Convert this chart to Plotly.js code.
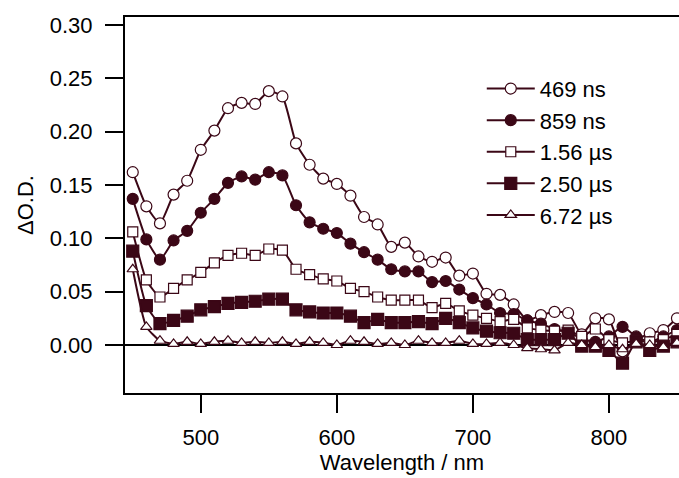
<!DOCTYPE html>
<html>
<head>
<meta charset="utf-8">
<script src="https://cdn.plot.ly/plotly-3.0.1.min.js"></script>
<style>html,body{margin:0;padding:0;background:#fff}#chart{width:679px;height:478px}</style>
</head>
<body>
<div id="chart"></div>
<script>
const wavelength = [450,460,470,480,490,500,510,520,530,540,550,560,570,580,590,600,610,620,630,640,650,660,670,680,690,700,710,720,730,740,750,760,770,780,790,800,810,820,830,840,850];
const seriesNames = ['469 ns','859 ns','1.56 \u00b5s','2.50 \u00b5s','6.72 \u00b5s'];
const od469ns = [0.162,0.130,0.114,0.141,0.154,0.183,0.201,0.222,0.227,0.226,0.238,0.233,0.189,0.169,0.156,0.151,0.140,0.120,0.113,0.092,0.096,0.083,0.078,0.082,0.065,0.067,0.048,0.047,0.038,0.023,0.028,0.031,0.030,0.010,0.025,0.024,-0.006,0.004,0.011,0.014,0.025];
const od859ns = [0.137,0.099,0.080,0.098,0.107,0.124,0.137,0.152,0.158,0.155,0.162,0.159,0.131,0.115,0.109,0.105,0.095,0.087,0.080,0.071,0.069,0.069,0.059,0.060,0.052,0.044,0.038,0.030,0.029,0.023,0.020,0.015,0.012,0.006,0.003,0.008,0.017,0.008,0.003,0.008,0.014];
const od156us = [0.106,0.061,0.045,0.053,0.061,0.068,0.077,0.084,0.086,0.084,0.090,0.089,0.071,0.066,0.062,0.060,0.053,0.050,0.045,0.042,0.042,0.042,0.035,0.039,0.032,0.028,0.025,0.022,0.024,0.016,0.014,0.013,0.014,0.008,0.015,0.005,0.002,0.004,0.003,0.005,0.010];
const od250us = [0.088,0.037,0.020,0.023,0.027,0.033,0.036,0.039,0.040,0.041,0.043,0.043,0.033,0.031,0.030,0.030,0.027,0.021,0.024,0.021,0.021,0.022,0.020,0.025,0.021,0.016,0.013,0.0115,0.011,0.005,0.005,0.005,0.011,-0.001,-0.001,-0.005,-0.017,0.003,-0.005,-0.001,0.003];
const od672us = [0.071,0.017,0.004,0.001,0.003,0.001,0.003,0.004,0.002,0.003,0.002,0.003,0.001,0.003,0.002,0.000,0.004,0.003,0.001,0.002,0.000,0.004,0.002,0.002,0.004,0.001,0.001,0.002,0.000,-0.003,-0.004,-0.005,0.002,0.000,-0.002,0.000,-0.004,0.001,0.000,-0.002,0.002];
const xTicks = [500,600,700,800];
const yTicks = [0.00,0.05,0.10,0.15,0.20,0.25,0.30];

const col = '#3b0716';
const seriesData = [od469ns, od859ns, od156us, od250us, od672us];
const symbols = ['circle','circle','square','square','triangle-up'];
const fills = ['#ffffff', col, '#ffffff', col, '#ffffff'];
const sizes = [11, 11, 10, 12, 10];

const traces = seriesData.map((y, i) => ({
  x: wavelength, y: y, name: seriesNames[i], type: 'scatter', mode: 'lines+markers',
  legendgroup: 'g' + i,
  line: {color: col, width: 2, shape: 'spline', smoothing: 0.5},
  marker: {symbol: symbols[i], size: sizes[i], color: fills[i], line: {color: col, width: 1.2}}
}));

const font = {family: 'Liberation Sans, Arial, sans-serif', size: 22, color: '#000'};
const layout = {
  width: 679, height: 478,
  margin: {l: 125, r: 0, t: 17, b: 85},
  paper_bgcolor: '#fff', plot_bgcolor: '#fff',
  font: font,
  showlegend: true,
  legend: {x: 0.644, y: 0.865, xanchor: 'left', yanchor: 'top', bgcolor: 'rgba(0,0,0,0)',
           font: font, tracegroupgap: 0, itemwidth: 48},
  xaxis: {range: [444.3, 851.5], tickvals: xTicks, ticks: 'outside', ticklen: 18, tickwidth: 2,
          tickcolor: '#000', showline: true, linecolor: '#000', linewidth: 2, mirror: true,
          showgrid: false, zeroline: false, tickfont: font, ticklabelstandoff: 6,
          title: {text: 'Wavelength / nm', font: font, standoff: 4}},
  yaxis: {range: [-0.045, 0.3075], tickvals: yTicks, tickformat: '.2f', ticks: 'outside', ticklen: 18,
          tickwidth: 2, tickcolor: '#000', showline: true, linecolor: '#000', linewidth: 2, mirror: false,
          showgrid: false, zeroline: true, zerolinecolor: '#000', zerolinewidth: 2, tickfont: font,
          ticklabelstandoff: 8,
          title: {text: '\u0394O.D.', font: font, standoff: 10}}
};
Plotly.newPlot('chart', traces, layout, {displayModeBar: false, staticPlot: true});
</script>
</body>
</html>
